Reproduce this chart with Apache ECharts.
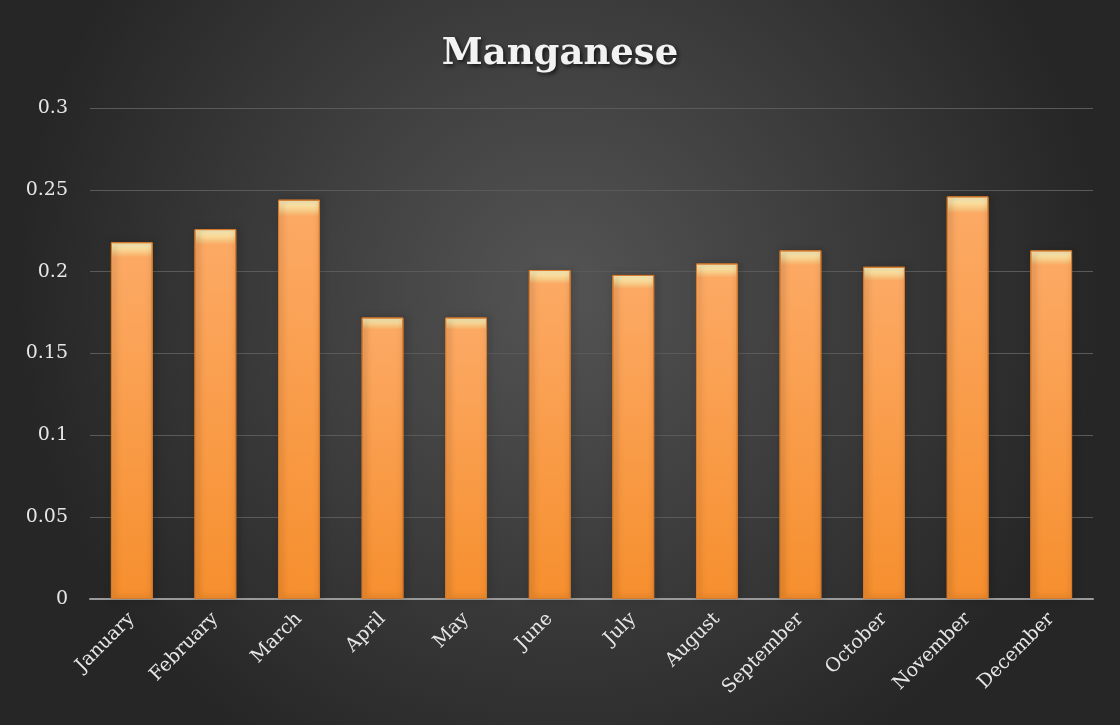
<!doctype html>
<html lang="en">
<head>
<meta charset="utf-8" />
<title>Manganese</title>
<script src="https://cdn.jsdelivr.net/npm/echarts@6/dist/echarts.min.js"></script>
<style>
  html, body { margin: 0; padding: 0; background: #fff; }
  #chart { width: 1120px; height: 725px; }
</style>
</head>
<body>
<div id="chart"></div>
<script>
  const months = ['January', 'February', 'March', 'April', 'May', 'June', 'July', 'August', 'September', 'October', 'November', 'December'];
  const manganese = [0.218, 0.226, 0.244, 0.172, 0.172, 0.201, 0.198, 0.205, 0.213, 0.203, 0.246, 0.213];
  const yTicks = [0, 0.05, 0.1, 0.15, 0.2, 0.25, 0.3];

  const chart = echarts.init(document.getElementById('chart'));
  chart.setOption({
    backgroundColor: {
      type: 'radial', x: 0.5, y: 0.4, r: 0.75,
      colorStops: [
        { offset: 0, color: '#545454' },
        { offset: 1, color: '#262626' }
      ]
    },
    title: {
      text: 'Manganese',
      left: 'center',
      top: 31,
      textStyle: {
        fontFamily: 'DejaVu Serif',
        fontWeight: 'bold',
        fontSize: 37,
        color: '#f2f2f2',
        textShadowColor: 'rgba(0,0,0,0.7)',
        textShadowBlur: 4,
        textShadowOffsetX: 2,
        textShadowOffsetY: 2
      }
    },
    grid: { left: 90, right: 27, top: 108, bottom: 126 },
    xAxis: {
      type: 'category',
      data: months,
      axisLine: { lineStyle: { color: '#9a9a9a', width: 2 } },
      axisTick: { show: false },
      axisLabel: {
        rotate: 45,
        interval: 0,
        margin: 17,
        color: '#e6e6e6',
        fontFamily: 'DejaVu Serif',
        fontSize: 19
      }
    },
    yAxis: {
      type: 'value',
      min: yTicks[0],
      max: yTicks[yTicks.length - 1],
      interval: 0.05,
      axisLine: { show: false },
      axisTick: { show: false },
      splitLine: { lineStyle: { color: '#5a5a5a', width: 1 } },
      axisLabel: {
        color: '#e6e6e6',
        fontFamily: 'DejaVu Serif',
        fontSize: 19,
        margin: 22,
        formatter: v => String(+v.toFixed(2))
      }
    },
    series: [{
      type: 'bar',
      data: manganese,
      barWidth: '50%',
      itemStyle: {
        color: {
          type: 'linear', x: 0, y: 0, x2: 0, y2: 1,
          colorStops: [
            { offset: 0, color: '#fff2c4' },
            { offset: 0.015, color: '#fde4a4' },
            { offset: 0.032, color: '#f7c07a' },
            { offset: 0.042, color: '#fca964' },
            { offset: 1, color: '#f68f2e' }
          ]
        },
        borderColor: '#d87a2a',
        borderWidth: 1,
        shadowColor: 'rgba(0,0,0,0.5)',
        shadowBlur: 6,
        shadowOffsetX: 2,
        shadowOffsetY: 0
      }
    }]
  });
</script>
</body>
</html>
